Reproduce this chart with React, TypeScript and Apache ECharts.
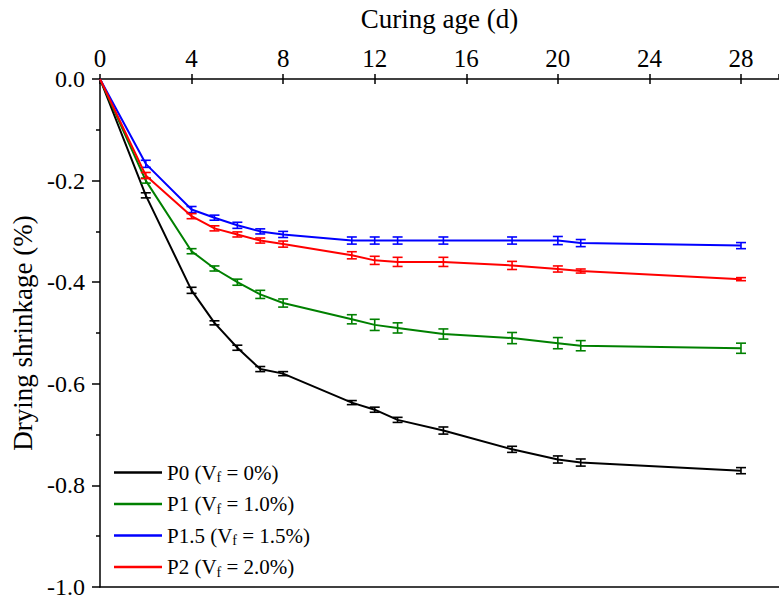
import React, { useEffect, useRef } from "react";
import * as echarts from "echarts";

const days = [0, 2, 4, 5, 6, 7, 8, 11, 12, 13, 15, 18, 20, 21, 28];
const seriesNames = ["P0", "P1", "P1.5", "P2"];
const vfLabels = ["0%", "1.0%", "1.5%", "2.0%"];
const colors = ["#000000", "#008000", "#0000ff", "#ff0000"];

const p0 = [0, -0.229, -0.416, -0.48, -0.529, -0.571, -0.58, -0.637, -0.651, -0.671, -0.692, -0.729, -0.749, -0.755, -0.771];
const p1 = [0, -0.2, -0.339, -0.373, -0.4, -0.424, -0.441, -0.473, -0.484, -0.49, -0.502, -0.51, -0.52, -0.525, -0.53];
const p15 = [0, -0.167, -0.257, -0.273, -0.288, -0.3, -0.306, -0.318, -0.318, -0.318, -0.318, -0.318, -0.318, -0.323, -0.328];
const p2 = [0, -0.19, -0.27, -0.294, -0.306, -0.318, -0.325, -0.347, -0.357, -0.36, -0.36, -0.367, -0.374, -0.378, -0.394];

const p0Err = [0, 0.005, 0.006, 0.004, 0.005, 0.005, 0.004, 0.004, 0.005, 0.005, 0.007, 0.006, 0.007, 0.007, 0.006];
const p1Err = [0, 0.005, 0.005, 0.005, 0.006, 0.008, 0.008, 0.009, 0.011, 0.01, 0.01, 0.011, 0.011, 0.01, 0.01];
const p15Err = [0, 0.007, 0.006, 0.005, 0.006, 0.005, 0.006, 0.007, 0.007, 0.007, 0.007, 0.007, 0.008, 0.007, 0.006];
const p2Err = [0, 0.006, 0.005, 0.005, 0.005, 0.005, 0.006, 0.007, 0.008, 0.009, 0.009, 0.008, 0.006, 0.004, 0.003];

const allValues = [p0, p1, p15, p2];
const allErrs = [p0Err, p1Err, p15Err, p2Err];

const FONT = "Liberation Serif";
const X_MAX = 29.66;

export default function App() {
  const ref = useRef<HTMLDivElement>(null);
  useEffect(() => {
    if (!ref.current) return;
    const chart = echarts.init(ref.current, undefined, { renderer: "svg" });

    const lineSeries = seriesNames.map((name, i) => ({
      name,
      type: "line",
      xAxisIndex: 0,
      yAxisIndex: 0,
      data: days.map((d, j) => [d, allValues[i][j]]),
      symbol: "none",
      lineStyle: { color: colors[i], width: 2 },
      itemStyle: { color: colors[i] },
      z: 2 + i,
    }));

    const errSeries = seriesNames.map((name, i) => ({
      name: name + "-err",
      type: "custom",
      xAxisIndex: 0,
      yAxisIndex: 0,
      data: days.map((d, j) => [d, allValues[i][j], allErrs[i][j]]),
      z: 2 + i,
      renderItem: (params: any, api: any) => {
        const x = api.value(0);
        const y = api.value(1);
        const e = api.value(2);
        if (!e) return { type: "group", children: [] };
        const top = api.coord([x, y + e]);
        const bot = api.coord([x, y - e]);
        const w = 5;
        const style = { stroke: colors[i], lineWidth: 1.6 };
        return {
          type: "group",
          children: [
            { type: "line", shape: { x1: top[0], y1: top[1], x2: bot[0], y2: bot[1] }, style },
            { type: "line", shape: { x1: top[0] - w, y1: top[1], x2: top[0] + w, y2: top[1] }, style },
            { type: "line", shape: { x1: bot[0] - w, y1: bot[1], x2: bot[0] + w, y2: bot[1] }, style },
          ],
        };
      },
    }));

    const axisLineStyle = { color: "#000", width: 1.5 };

    chart.setOption({
      animation: false,
      backgroundColor: "#fff",
      textStyle: { fontFamily: FONT },
      grid: { left: 100, top: 78, width: 679, height: 510, containLabel: false },
      legend: {
        data: seriesNames,
        orient: "vertical",
        left: 114,
        top: 462,
        padding: 0,
        icon: "rect",
        itemWidth: 48,
        itemHeight: 2.5,
        itemGap: 9,
        formatter: (name: string) => {
          const i = seriesNames.indexOf(name);
          return `{n|${name} (V}{s|f}{n| = ${vfLabels[i]})}`;
        },
        textStyle: {
          fontFamily: FONT,
          fontSize: 21,
          color: "#000",
          rich: {
            n: { fontFamily: FONT, fontSize: 21, color: "#000", lineHeight: 24 },
            s: { fontFamily: FONT, fontSize: 14, color: "#000", lineHeight: 12, verticalAlign: "bottom" },
          },
        },
      },
      xAxis: [
        {
          type: "value",
          position: "top",
          min: 0,
          max: X_MAX,
          interval: 4,
          name: "Curing age (d)",
          nameLocation: "middle",
          nameGap: 47,
          nameTextStyle: { fontFamily: FONT, fontSize: 27, color: "#000" },
          axisLine: { show: true, lineStyle: axisLineStyle },
          axisTick: { show: true, inside: true, length: 5, lineStyle: { color: "#000", width: 1.5 } },
          axisLabel: {
            show: true,
            margin: 8,
            showMaxLabel: false,
            fontFamily: FONT,
            fontSize: 25,
            color: "#000",
          },
          splitLine: { show: false },
        },
        {
          type: "value",
          position: "top",
          min: 0,
          max: X_MAX,
          interval: 4,
          axisLine: { show: false },
          axisTick: { show: true, inside: false, length: 5, lineStyle: { color: "#000", width: 1.5 } },
          axisLabel: { show: false },
          splitLine: { show: false },
        },
        {
          type: "value",
          position: "bottom",
          min: 0,
          max: X_MAX,
          axisLine: { show: true, lineStyle: axisLineStyle },
          axisTick: { show: false },
          axisLabel: { show: false },
          splitLine: { show: false },
        },
      ],
      yAxis: [
        {
          type: "value",
          min: -1,
          max: 0,
          interval: 0.2,
          name: "Drying shrinkage (%)",
          nameLocation: "middle",
          nameGap: 62,
          nameTextStyle: { fontFamily: FONT, fontSize: 27, color: "#000" },
          axisLine: { show: true, lineStyle: axisLineStyle },
          axisTick: { show: true, inside: false, length: 8, lineStyle: { color: "#000", width: 1.5 } },
          minorTick: { show: true, splitNumber: 2, length: 4, lineStyle: { color: "#000", width: 1.5 } },
          axisLabel: {
            margin: 15,
            fontFamily: FONT,
            fontSize: 24,
            color: "#000",
            formatter: (v: number) => v.toFixed(1),
          },
          splitLine: { show: false },
          minorSplitLine: { show: false },
        },
      ],
      series: [...lineSeries, ...errSeries],
    });

    return () => chart.dispose();
  }, []);

  return (
    <div
      ref={ref}
      style={{ position: "fixed", left: 0, top: 0, width: 779, height: 599, background: "#fff" }}
    />
  );
}
